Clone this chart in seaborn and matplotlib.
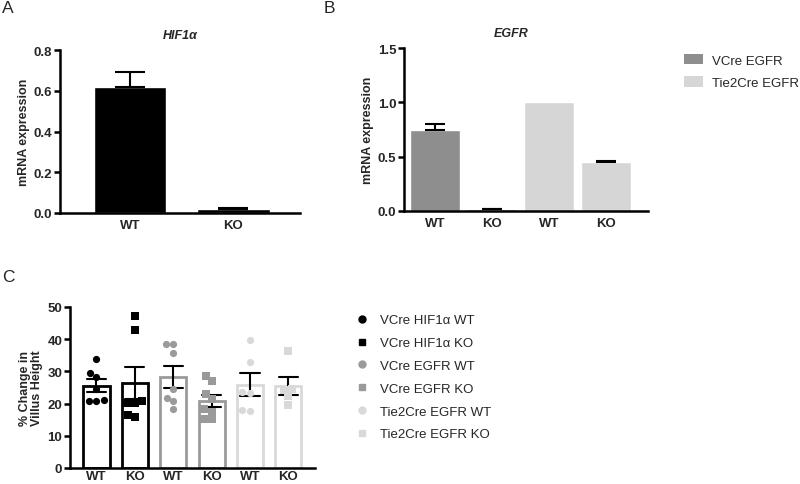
import numpy as np
import pandas as pd
import matplotlib
matplotlib.use("Agg")
import matplotlib.pyplot as plt
import seaborn as sns
from matplotlib.patches import Patch
from matplotlib.lines import Line2D

sns.set_style("ticks")
plt.rcParams["font.family"] = ["Liberation Sans", "DejaVu Sans"]

# ---------------- data ----------------
# Panel A: HIF1a mRNA expression
a_genotypes = ["WT", "KO"]
a_means = [0.62, 0.018]
a_sem = [0.07, 0.006]

# Panel B: EGFR mRNA expression
b_keys = ["VCre WT", "VCre KO", "Tie2Cre WT", "Tie2Cre KO"]
b_ticklabels = ["WT", "KO", "WT", "KO"]
b_groups = ["VCre EGFR", "VCre EGFR", "Tie2Cre EGFR", "Tie2Cre EGFR"]
b_means = [0.745, 0.015, 1.0, 0.45]
b_sem = [0.06, 0.005, 0.0, 0.01]

# Panel C: % change in villus height
c_groups = ["VCre HIF1α WT", "VCre HIF1α KO", "VCre EGFR WT",
            "VCre EGFR KO", "Tie2Cre EGFR WT", "Tie2Cre EGFR KO"]
c_ticklabels = ["WT", "KO", "WT", "KO", "WT", "KO"]
c_hif_wt = [34.0, 28.4, 29.5, 24.5, 21.0, 20.7, 20.9]
c_hif_ko = [47.2, 43.0, 20.3, 20.3, 20.8, 15.9, 16.6]
c_egfr_wt = [38.4, 38.4, 35.6, 24.6, 20.7, 21.8, 18.4]
c_egfr_ko = [28.6, 27.1, 23.0, 21.5, 18.2, 17.5, 15.1, 15.1]
c_tie_wt = [39.7, 32.8, 23.6, 23.4, 17.7, 18.0]
c_tie_ko = [36.3, 24.5, 24.3, 22.5, 19.7]

# ---------------- styles ----------------
black = "#000000"
dark = "#8e8e8e"
light = "#d6d6d6"
c_colors = {c_groups[0]: black, c_groups[1]: black, c_groups[2]: "#9a9a9a",
            c_groups[3]: "#9a9a9a", c_groups[4]: "#d9d9d9", c_groups[5]: "#d9d9d9"}
c_markers = {c_groups[0]: "o", c_groups[1]: "s", c_groups[2]: "o",
             c_groups[3]: "s", c_groups[4]: "o", c_groups[5]: "s"}
b_palette = {"VCre EGFR": dark, "Tie2Cre EGFR": light}

SPW = 1.8
TFS = 9.5
LFS = 9.0


def style_axis(ax):
    sns.despine(ax=ax)
    for s in ["left", "bottom"]:
        ax.spines[s].set_linewidth(SPW)
        ax.spines[s].set_color("black")
    ax.tick_params(axis="y", width=SPW, length=4, labelsize=TFS, pad=1.5, color="black")
    ax.tick_params(axis="x", length=0, labelsize=TFS, pad=4)
    for lab in ax.get_xticklabels() + ax.get_yticklabels():
        lab.set_fontweight("bold")


fig = plt.figure(figsize=(8.0, 4.85), dpi=100)

# ---------------- Panel A ----------------
axA = fig.add_axes([0.075, 0.5588, 0.30, 0.336])
dfA = pd.DataFrame({"genotype": a_genotypes, "mean": a_means})
sns.barplot(data=dfA, x="genotype", y="mean", color=black, saturation=1,
            width=0.7, errorbar=None, ax=axA)
axA.errorbar(x=np.arange(len(a_means)), y=a_means,
             yerr=[np.zeros(len(a_sem)), a_sem], fmt="none",
             ecolor="black", elinewidth=1.5, capsize=11, capthick=1.5)
axA.set_ylim(0, 0.8)
axA.set_yticks([0, 0.2, 0.4, 0.6, 0.8])
axA.set_yticklabels(["0.0", "0.2", "0.4", "0.6", "0.8"])
axA.set_xlim(-0.676, 1.643)
axA.set_xlabel("")
axA.set_ylabel("mRNA expression", fontsize=LFS, fontweight="bold", labelpad=3)
style_axis(axA)
axA.text(0.5, 1.095, "HIF1α", transform=axA.transAxes, ha="center", va="center",
         fontsize=LFS, fontweight="bold", style="italic")

# ---------------- Panel B ----------------
axB = fig.add_axes([0.505, 0.5629, 0.305, 0.336])
dfB = pd.DataFrame({"key": b_keys, "mean": b_means, "group": b_groups})
sns.barplot(data=dfB, x="key", y="mean", hue="group", palette=b_palette,
            saturation=1, dodge=False, width=0.88, errorbar=None, legend=False, ax=axB)
bm = np.asarray(b_means)
bs = np.asarray(b_sem)
keep = bs > 0
axB.errorbar(x=np.arange(len(bm))[keep], y=bm[keep],
             yerr=[np.zeros(keep.sum()), bs[keep]], fmt="none", ecolor="black",
             elinewidth=1.5, capsize=7, capthick=1.5)
axB.set_ylim(0, 1.5)
axB.set_yticks([0, 0.5, 1.0, 1.5])
axB.set_yticklabels(["0.0", "0.5", "1.0", "1.5"])
axB.set_xlim(-0.54, 3.74)
axB.set_xticks(range(len(b_ticklabels)))
axB.set_xticklabels(b_ticklabels)
axB.set_xlabel("")
axB.set_ylabel("mRNA expression", fontsize=LFS, fontweight="bold", labelpad=3)
style_axis(axB)
axB.text(0.44, 1.095, "EGFR", transform=axB.transAxes, ha="center", va="center",
         fontsize=LFS, fontweight="bold", style="italic")
b_handles = [Patch(facecolor=b_palette[g], edgecolor="none", label=g)
             for g in ["VCre EGFR", "Tie2Cre EGFR"]]
fig.legend(handles=b_handles, loc="upper left", bbox_to_anchor=(0.855, 0.887),
           frameon=False, fontsize=9.5, handlelength=1.45, handleheight=0.85,
           handletextpad=0.65, labelspacing=0.72, borderpad=0, borderaxespad=0)

# ---------------- Panel C ----------------
axC = fig.add_axes([0.0875, 0.0330, 0.306, 0.332])
c_series = [c_hif_wt, c_hif_ko, c_egfr_wt, c_egfr_ko, c_tie_wt, c_tie_ko]
dfC = pd.DataFrame({
    "group": np.concatenate([[g] * len(v) for g, v in zip(c_groups, c_series)]),
    "value": np.concatenate(c_series),
})
sns.barplot(data=dfC, x="group", y="value", order=c_groups, hue="group",
            hue_order=c_groups, palette=c_colors, fill=False, linewidth=2.0,
            width=0.68, errorbar="se", capsize=0.5,
            err_kws={"color": "black", "linewidth": 1.5}, legend=False, ax=axC)
for g in c_groups:
    sns.swarmplot(data=dfC[dfC["group"] == g], x="group", y="value", order=c_groups,
                  color=c_colors[g], marker=c_markers[g], size=5.2, ax=axC, zorder=3)
axC.set_ylim(0, 50)
axC.set_yticks([0, 10, 20, 30, 40, 50])
axC.set_xlim(-0.69, 5.69)
axC.set_xticks(range(len(c_ticklabels)))
axC.set_xticklabels(c_ticklabels)
axC.set_xlabel("")
axC.set_ylabel("% Change in\nVillus Height", fontsize=LFS, fontweight="bold",
               labelpad=3, linespacing=1.05)
style_axis(axC)
axC.tick_params(axis="x", pad=1.5)

c_handles = [Line2D([0], [0], linestyle="none", marker=c_markers[g],
                    color=c_colors[g], markersize=5, label=g) for g in c_groups]
fig.legend(handles=c_handles, loc="upper left", bbox_to_anchor=(0.444, 0.350),
           frameon=False, fontsize=9.5, handlelength=1.0, handletextpad=0.85,
           labelspacing=0.80, borderpad=0, borderaxespad=0)

# ---------------- panel letters ----------------
fig.text(0.003, 0.998, "A", fontsize=12.5, va="top", ha="left")
fig.text(0.404, 0.998, "B", fontsize=12.5, va="top", ha="left")
fig.text(0.003, 0.444, "C", fontsize=12.5, va="top", ha="left")

fig.savefig("out.png", dpi=100)
